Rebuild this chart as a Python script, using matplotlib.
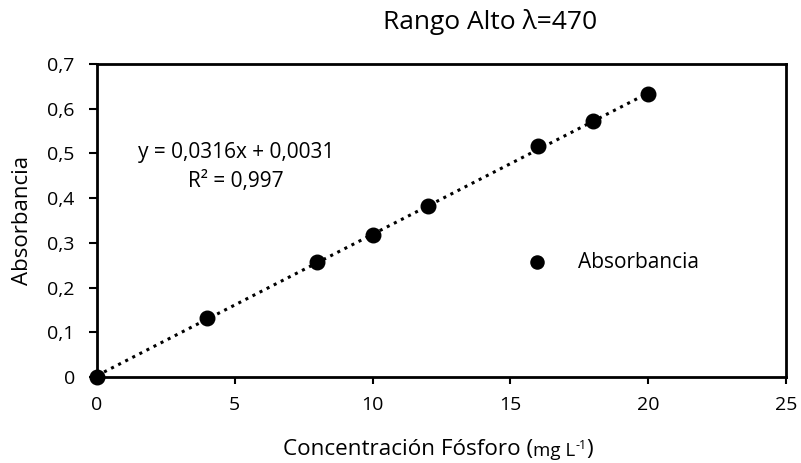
import numpy as np
import matplotlib.pyplot as plt

plt.rcParams['font.family'] = ['Open Sans', 'DejaVu Sans']

# Curva de calibración (rango alto)
concentracion = [0, 4, 8, 10, 12, 16, 18, 20]
absorbancia = [0.0, 0.131, 0.258, 0.318, 0.382, 0.516, 0.572, 0.634]
pendiente = 0.0316
intercepto = 0.0031
r2 = 0.997

fig = plt.figure(figsize=(8.01, 4.63), dpi=100)
ax = fig.add_axes([97 / 801, 1 - 377 / 463, (786 - 97) / 801, (377 - 64) / 463])

ax.scatter(concentracion, absorbancia, s=110, color='black', zorder=3,
           label='Absorbancia', clip_on=False)
xs = np.array([0, 20])
ax.plot(xs, pendiente * xs + intercepto, color='black', linestyle=(0, (1, 1.6)),
        linewidth=2.2, zorder=2)

ax.set_xlim(0, 25)
ax.set_ylim(0, 0.7)
ax.set_xticks(range(0, 26, 5))
ax.set_yticks(np.arange(0, 0.71, 0.1))
ax.set_yticklabels(['0'] + [f'{v:.1f}'.replace('.', ',') for v in np.arange(0.1, 0.71, 0.1)])
ax.tick_params(direction='out', length=6, width=1.5, labelsize=14, colors='black')
ax.tick_params(axis='x', pad=9, length=5)
ax.tick_params(axis='y', pad=10)
for s in ax.spines.values():
    s.set_linewidth(2)

ax.set_ylabel('Absorbancia', fontsize=16, labelpad=10)
fig.suptitle('Rango Alto λ=470', x=490 / 801, y=1 - 9 / 463, va='top', fontsize=19)

# Etiqueta del eje x con unidades más pequeñas
t1 = fig.text(283 / 801, 1 - 455 / 463, 'Concentración Fósforo (', fontsize=16.2,
              va='baseline')
t2 = ax.annotate('mg L', xy=(1, 0), xycoords=t1, fontsize=13.5, va='bottom')
t3 = ax.annotate('-1', xy=(1, 0.45), xycoords=t2, fontsize=9, va='bottom')
ax.annotate(')', xy=(1, 0), xycoords=(t3, t1), fontsize=16.2, va='bottom')

ax.text(5.05, 0.503, f'y = {pendiente:.4f}x + {intercepto:.4f}'.replace('.', ','),
        fontsize=15, ha='center', va='center')
ax.text(5.05, 0.438, f'R² = {r2:.3f}'.replace('.', ','), fontsize=15,
        ha='center', va='center')

ax.legend(loc='center left', bbox_to_anchor=(0.581, 0.367), frameon=False,
          fontsize=15, handletextpad=0.95, markerscale=0.9)

fig.savefig('out.png', dpi=100)
